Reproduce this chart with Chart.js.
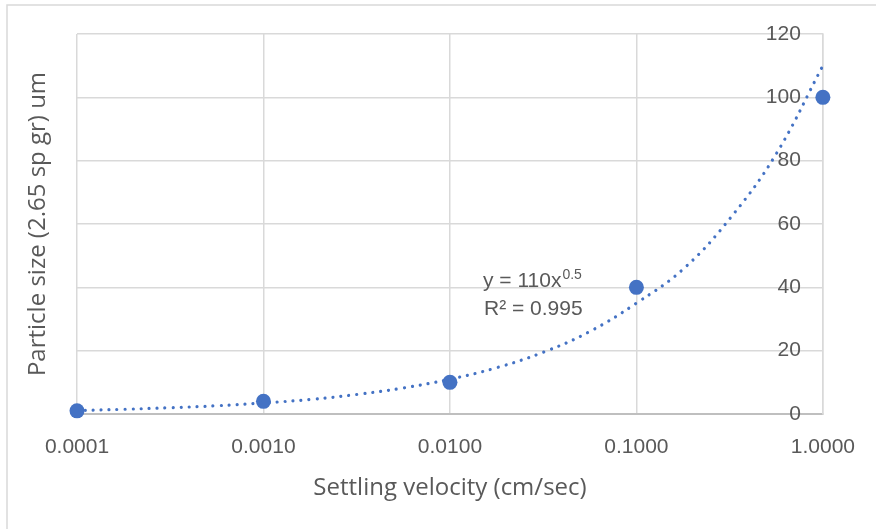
<!DOCTYPE html>
<html>
<head>
<meta charset="utf-8">
<script src="https://cdn.jsdelivr.net/npm/chart.js@4.4.1/dist/chart.umd.min.js"></script>
<style>
  html, body { margin: 0; padding: 0; background: #fff; }
  #wrap { width: 876px; height: 529px; position: relative; }
</style>
</head>
<body>
<div id="wrap"><canvas id="chart" width="876" height="529"></canvas></div>
<script>
// measured points
const velocity = [0.0001, 0.001, 0.01, 0.1, 1];
const particleSize = [1, 4, 10, 40, 100];

// power trendline (y = 110x^0.5)
const trendX = [0.0001, 0.00018, 0.00032, 0.00056, 0.001, 0.0018, 0.0032, 0.0056,
  0.01, 0.018, 0.032, 0.056, 0.1, 0.18, 0.32, 0.56, 1];
const trendY = [1.1, 1.5, 2.0, 2.6, 3.5, 4.6, 6.2, 8.2,
  11, 14.7, 19.6, 26, 35, 46, 62, 82, 110];

const xTicks = [0.0001, 0.001, 0.01, 0.1, 1];
const yTicks = [0, 20, 40, 60, 80, 100, 120];

const blue = "#4472C4";
const grid = "#d9d9d9";
const textCol = "#595959";
const tickFont = { family: "Liberation Sans", size: 21 };

// frame, axis titles and trendline label
const decor = {
  id: "decor",
  afterDraw(chart) {
    const ctx = chart.ctx;
    ctx.save();
    ctx.strokeStyle = grid;
    ctx.lineWidth = 1.5;
    ctx.beginPath();
    ctx.moveTo(7, 529);
    ctx.lineTo(7, 5);
    ctx.lineTo(876, 5);
    ctx.stroke();

    ctx.fillStyle = textCol;
    ctx.font = "24px 'Open Sans'";
    ctx.textAlign = "center";
    ctx.textBaseline = "alphabetic";
    ctx.fillText("Settling velocity (cm/sec)", 450, 495);

    ctx.translate(45, 224);
    ctx.rotate(-Math.PI / 2);
    ctx.fillText("Particle size (2.65 sp gr) um", 0, 0);
    ctx.restore();

    ctx.save();
    ctx.fillStyle = textCol;
    ctx.textAlign = "left";
    ctx.textBaseline = "alphabetic";
    ctx.font = "21px 'Liberation Sans'";
    ctx.fillText("y = 110x", 483, 287);
    const w = ctx.measureText("y = 110x").width;
    ctx.font = "14px 'Liberation Sans'";
    ctx.fillText("0.5", 483 + w + 1, 279);
    ctx.font = "21px 'Liberation Sans'";
    ctx.fillText("R\u00B2 = 0.995", 484, 315);
    ctx.restore();
  }
};

new Chart(document.getElementById("chart"), {
  type: "scatter",
  data: {
    datasets: [
      {
        type: "line",
        label: "Power trendline",
        data: trendX.map((x, i) => ({ x, y: trendY[i] })),
        borderColor: blue,
        borderWidth: 3.2,
        borderDash: [0.01, 8],
        borderCapStyle: "round",
        pointRadius: 0,
        tension: 0.4,
        fill: false,
        clip: false,
        order: 1
      },
      {
        label: "Particle size",
        data: velocity.map((x, i) => ({ x, y: particleSize[i] })),
        backgroundColor: blue,
        borderWidth: 0,
        pointRadius: 7.5,
        clip: false,
        order: 2
      }
    ]
  },
  options: {
    responsive: false,
    animation: false,
    layout: { padding: { left: 77, top: 34, right: 53, bottom: 0 } },
    plugins: { legend: { display: false }, tooltip: { enabled: false } },
    scales: {
      x: {
        type: "logarithmic",
        min: 0.0001,
        max: 1,
        afterFit: s => { s.height = 115; },
        afterBuildTicks: s => { s.ticks = xTicks.map(v => ({ value: v })); },
        ticks: {
          color: textCol,
          font: tickFont,
          padding: 21,
          maxRotation: 0,
          callback: v => Number(v).toFixed(4)
        },
        grid: { color: grid, lineWidth: 1.5, drawTicks: false },
        border: { color: "#bfbfbf", width: 2 }
      },
      y: {
        position: "right",
        min: 0,
        max: 120,
        afterFit: s => { s.width = 0; },
        afterBuildTicks: s => { s.ticks = yTicks.map(v => ({ value: v })); },
        ticks: {
          color: textCol,
          font: tickFont,
          mirror: true,
          padding: -22
        },
        grid: { color: grid, lineWidth: 1.5, drawTicks: false },
        border: { color: grid, width: 1.5 }
      }
    }
  },
  plugins: [decor]
});
</script>
</body>
</html>
